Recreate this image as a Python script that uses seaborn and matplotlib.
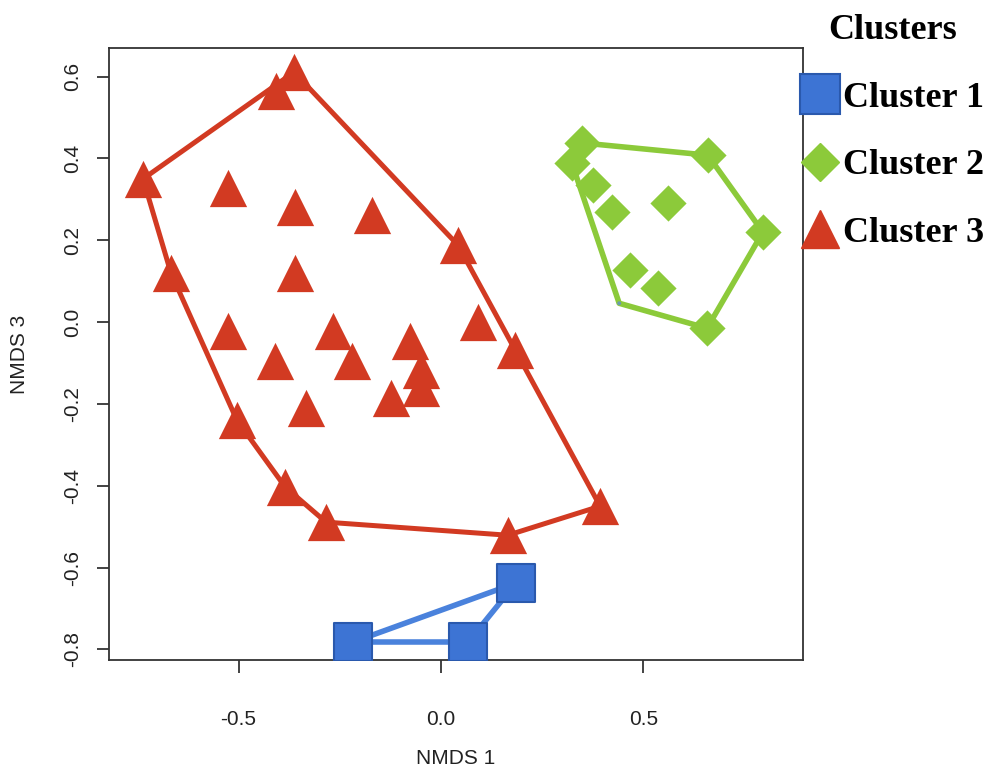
import numpy as np
import pandas as pd
import matplotlib
matplotlib.use('Agg')
import matplotlib.pyplot as plt
import seaborn as sns
from matplotlib.lines import Line2D
from matplotlib.font_manager import FontProperties

# NMDS scores
c1_x = [-0.217, 0.067, 0.185]
c1_y = [-0.782, -0.782, -0.638]

c2_x = [0.348, 0.323, 0.375, 0.422, 0.560, 0.659, 0.795, 0.467, 0.536, 0.657]
c2_y = [0.438, 0.389, 0.335, 0.269, 0.291, 0.408, 0.220, 0.127, 0.083, -0.015]
# hull corner of cluster 2 whose marker is hidden
c2_hid_x = [0.440]
c2_hid_y = [0.046]

c3_x = [-0.363, -0.407, -0.736, -0.526, -0.360, -0.170, 0.042, -0.667, -0.360,
        -0.526, 0.091, -0.267, -0.077, 0.183, -0.410, -0.220, -0.049, -0.049,
        -0.123, -0.504, -0.333, -0.385, -0.284, 0.165, 0.393]
c3_y = [0.611, 0.565, 0.350, 0.328, 0.281, 0.262, 0.188, 0.120, 0.120,
        -0.022, 0.000, -0.022, -0.046, -0.068, -0.095, -0.095, -0.117, -0.161,
        -0.186, -0.240, -0.210, -0.403, -0.489, -0.521, -0.450]

labels = ['Cluster 1', 'Cluster 2', 'Cluster 3']
blue = '#3d74d4'
blue_edge = '#2a59ad'
green = '#8cca3a'
red = '#d23a22'


def convex_hull(xs, ys):
    pts = sorted(set(zip(xs, ys)))

    def cross(o, a, b):
        return (a[0] - o[0]) * (b[1] - o[1]) - (a[1] - o[1]) * (b[0] - o[0])

    lower, upper = [], []
    for p in pts:
        while len(lower) >= 2 and cross(lower[-2], lower[-1], p) <= 0:
            lower.pop()
        lower.append(p)
    for p in reversed(pts):
        while len(upper) >= 2 and cross(upper[-2], upper[-1], p) <= 0:
            upper.pop()
        upper.append(p)
    h = lower[:-1] + upper[:-1]
    h.append(h[0])
    return [p[0] for p in h], [p[1] for p in h]


sns.set_style('white')
plt.rcParams['font.family'] = ['Liberation Sans', 'DejaVu Sans']
plt.rcParams['axes.unicode_minus'] = False
plt.rcParams['text.color'] = 'black'

fig = plt.figure(figsize=(9.93, 7.71), dpi=100)
ax = fig.add_axes([109 / 993, 1 - 660 / 771, 694 / 993, 612 / 771])

# hulls
hx, hy = convex_hull(c1_x, c1_y)
ax.plot(hx, hy, color='#4a82dc', lw=4, zorder=2, solid_joinstyle='round')
hx, hy = convex_hull(c2_x + c2_hid_x, c2_y + c2_hid_y)
ax.plot(hx, hy, color=green, lw=4, zorder=2, solid_joinstyle='round')
hx, hy = convex_hull(c3_x, c3_y)
ax.plot(hx, hy, color=red, lw=3.6, zorder=2, solid_joinstyle='round')

# points
sns.scatterplot(x=c3_x, y=c3_y, ax=ax, marker='^', s=720, color=red,
                edgecolor=red, linewidth=0, zorder=3, legend=False)
sns.scatterplot(x=c2_x, y=c2_y, ax=ax, marker='D', s=340, color=green,
                edgecolor=green, linewidth=0, zorder=3, legend=False)
sns.scatterplot(x=c2_hid_x, y=c2_hid_y, ax=ax, marker='o', s=8, color='#6a9ab0',
                edgecolor='none', zorder=3, legend=False)
sns.scatterplot(x=c1_x, y=c1_y, ax=ax, marker='s', s=780, color=blue,
                edgecolor=blue_edge, linewidth=1.5, zorder=3, legend=False)

ax.set_xlim(-0.820, 0.894)
ax.set_ylim(-0.826, 0.670)
ax.set_xticks([-0.5, 0.0, 0.5])
ax.set_xticklabels(['-0.5', '0.0', '0.5'])
ax.set_yticks([-0.8, -0.6, -0.4, -0.2, 0.0, 0.2, 0.4, 0.6])
ax.set_yticklabels(['-0.8', '-0.6', '-0.4', '-0.2', '0.0', '0.2', '0.4', '0.6'],
                   rotation=90, va='center')
ax.tick_params(axis='both', direction='out', length=9, width=1.2,
               bottom=True, left=True, labelsize=15,
               colors='#222222', labelcolor='#222222')
ax.tick_params(axis='x', pad=27)
ax.tick_params(axis='y', pad=10)
for sp in ax.spines.values():
    sp.set_color('#333333')
    sp.set_linewidth(1.3)

ax.set_xlabel('NMDS 1', fontsize=15, color='#222222')
ax.set_ylabel('NMDS 3', fontsize=15, color='#222222')
ax.xaxis.set_label_coords(0.5, -0.145)
ax.yaxis.set_label_coords(-0.115, 0.5)

handles = [
    Line2D([], [], ls='none', marker='s', markersize=29, markerfacecolor=blue,
           markeredgecolor=blue_edge, markeredgewidth=1.5),
    Line2D([], [], ls='none', marker='D', markersize=19, markerfacecolor=green,
           markeredgecolor=green),
    Line2D([], [], ls='none', marker='^', markersize=27, markerfacecolor=red,
           markeredgecolor=red),
]
lab_font = FontProperties(family='Liberation Serif', weight='bold', size=26)
leg = fig.legend(handles, labels, title='Clusters', loc='upper left',
                 bbox_to_anchor=(800 / 993, 1 - 14 / 771), frameon=False,
                 prop=lab_font, title_fontproperties=lab_font,
                 handlelength=1.1, handletextpad=0.1, labelspacing=0.95,
                 borderpad=0, borderaxespad=0)
for t in leg.get_texts():
    t.set_color('black')
leg.get_title().set_color('black')

fig.savefig('out.png', dpi=100)
